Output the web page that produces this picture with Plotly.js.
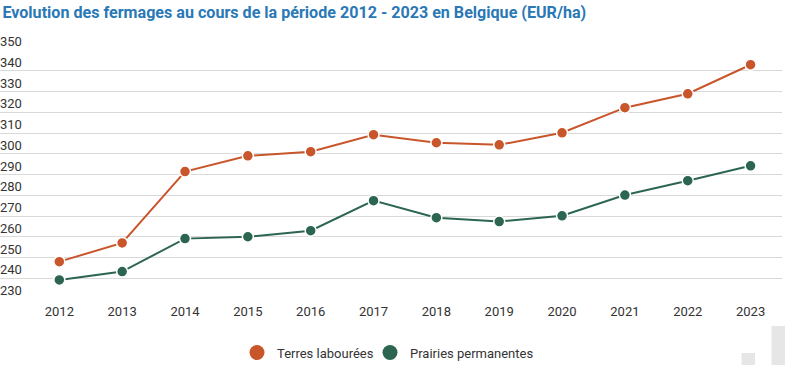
<!DOCTYPE html>
<html>
<head>
<meta charset="utf-8">
<script src="https://cdn.plot.ly/plotly-3.0.1.min.js"></script>
<style>
html,body{margin:0;padding:0;background:#fff;}
#chart{width:797px;height:365px;}
</style>
</head>
<body>
<div id="chart"></div>
<script>
const years = [2012, 2013, 2014, 2015, 2016, 2017, 2018, 2019, 2020, 2021, 2022, 2023];
const terresLabourees = [248, 257, 291.4, 299, 301, 309.2, 305.3, 304.3, 310.1, 322.2, 328.9, 342.9];
const prairiesPermanentes = [239.2, 243.2, 259.1, 260, 262.9, 277.4, 269.2, 267.3, 270.1, 280.1, 287, 294.2];
const yTicks = [230, 240, 250, 260, 270, 280, 290, 300, 310, 320, 330, 340, 350];
const seriesNames = ["Terres labourées", "Prairies permanentes"];

const font = "Roboto, 'Liberation Sans', sans-serif";
const orange = "#c9552a";
const green = "#2d6650";

const mk = (name, y, color) => ({
  type: "scatter",
  mode: "lines+markers",
  name: name,
  x: years,
  y: y,
  line: {color: color, width: 2},
  marker: {color: color, size: 11, line: {color: "#fff", width: 1.5}},
  cliponaxis: false,
  showlegend: false,
  hoverinfo: "x+y"
});
const leg = (name, color, legendId) => ({
  type: "scatter",
  mode: "markers",
  name: name,
  x: [null],
  y: [null],
  marker: {color: color, size: 15},
  showlegend: true,
  legend: legendId
});

const data = [
  mk(seriesNames[0], terresLabourees, orange),
  mk(seriesNames[1], prairiesPermanentes, green),
  leg(seriesNames[0], orange, "legend"),
  leg(seriesNames[1], green, "legend2")
];

const plotTop = 50, plotBottom = 299, plotRight = 782;
const legendStyle = (xPix) => ({
  orientation: "h",
  x: xPix / plotRight, xanchor: "left",
  y: -0.215, yanchor: "middle",
  font: {family: font, size: 13, color: "#333"},
  itemsizing: "trace",
  itemwidth: 30,
  bgcolor: "rgba(0,0,0,0)"
});
const layout = {
  width: 797,
  height: 365,
  margin: {l: 0, r: 797 - plotRight, t: plotTop, b: 365 - plotBottom, autoexpand: false},
  paper_bgcolor: "#fff",
  plot_bgcolor: "#fff",
  font: {family: font, size: 13, color: "#333"},
  title: {
    text: "<b>Evolution des fermages au cours de la période 2012 - 2023 en Belgique (EUR/ha)</b>",
    x: 0.003, xanchor: "left", y: 0.966, yanchor: "middle",
    font: {family: font, size: 16.1, color: "#2a78b6"}
  },
  xaxis: {
    range: [2011.056, 2023.5],
    tickvals: years,
    ticktext: years.map(String),
    showgrid: false,
    zeroline: false,
    showline: false,
    ticks: "",
    ticklabelstandoff: 3,
    automargin: false,
    tickfont: {family: font, size: 13, color: "#333"},
    fixedrange: true
  },
  yaxis: {
    range: [230, 350],
    tickvals: yTicks,
    showticklabels: false,
    showgrid: true,
    gridcolor: "#d9d9d9",
    gridwidth: 1,
    zeroline: false,
    showline: false,
    ticks: "",
    automargin: false,
    fixedrange: true
  },
  annotations: yTicks.map(v => ({
    xref: "paper", yref: "y", x: 0, y: v,
    xanchor: "left", yanchor: "bottom",
    text: String(v), showarrow: false,
    xshift: -2, yshift: -1,
    font: {family: font, size: 13, color: "#333"}
  })),
  showlegend: true,
  legend: legendStyle(237),
  legend2: legendStyle(370),
  shapes: [
    {type: "rect", xref: "paper", yref: "paper",
     x0: 741.5 / plotRight, x1: 755 / plotRight,
     y0: -(365 - plotBottom) / (plotBottom - plotTop), y1: -(353 - plotBottom) / (plotBottom - plotTop),
     fillcolor: "#e6e6e6", line: {width: 0}, layer: "below"},
    {type: "rect", xref: "paper", yref: "paper",
     x0: 771.5 / plotRight, x1: 785 / plotRight,
     y0: -(365 - plotBottom) / (plotBottom - plotTop), y1: -(326 - plotBottom) / (plotBottom - plotTop),
     fillcolor: "#e6e6e6", line: {width: 0}, layer: "below"}
  ]
};

Plotly.newPlot("chart", data, layout, {displayModeBar: false, staticPlot: true});
</script>
</body>
</html>
